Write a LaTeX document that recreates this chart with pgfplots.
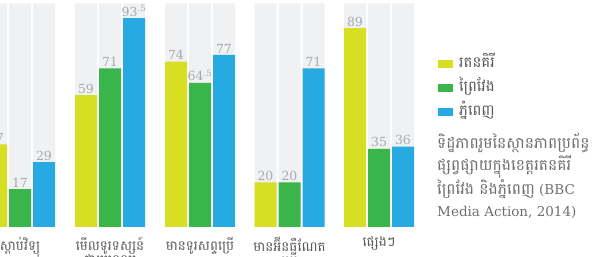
\documentclass[border=0pt]{standalone}
\usepackage{pgfplots}
\pgfplotsset{compat=1.18}
\usepackage{fontspec}
\setmainfont{DejaVu Serif}
\newfontfamily\khmer[Script=Khmer]{Battambang}
\definecolor{cy}{HTML}{D7DF23}
\definecolor{cg}{HTML}{39B54A}
\definecolor{cb}{HTML}{27AAE1}
\definecolor{bgc}{HTML}{F0F1F3}
\definecolor{num}{HTML}{A7A9AC}
\definecolor{txt}{HTML}{58595B}
\definecolor{cap}{HTML}{6D6E71}
\begin{document}
\begin{tikzpicture}
\useasboundingbox (0,0) rectangle (595pt,257pt);
\clip (0,0) rectangle (595pt,257pt);
\begin{axis}[
  at={(0pt,30pt)}, anchor=south west,
  scale only axis, width=595pt, height=223.5pt,
  xmin=0, xmax=595, ymin=0, ymax=100,
  axis line style={draw=none}, major tick length=0pt,
  ytick=\empty,
  xtick={20,110,200,289.5,379},
  xticklabels={ស្តាប់វិទ្យុ, មើលទូរទស្សន៍\\ផ្កាយរណប, មានទូរសព្ទប្រើ, មានអ៊ីនធឺណែត\\ប្រើ, ផ្សេងៗ},
  xticklabel style={font=\khmer\fontsize{13.5}{13}\selectfont, text=txt, align=center, inner sep=0pt, yshift=-10pt},
  clip=false,
  legend style={at={(0.736,0.7696)}, anchor=north west, draw=none, fill=none,
    font=\khmer\fontsize{15}{16}\selectfont, text=txt, row sep=6pt,
    inner sep=0pt, nodes={inner sep=2pt, text height=10pt, text depth=4pt},
    /tikz/every odd column/.append style={column sep=4pt}},
  legend cell align=left,
  legend image code/.code={\fill[#1] (0pt,-4pt) rectangle (15pt,4pt);},
  every node near coord/.style={font=\fontsize{12.5}{14}\selectfont, text=num, inner sep=1.5pt},
]
\addplot[ybar, bar width=22, bar shift=0pt, fill=bgc, draw=none, forget plot] coordinates {
(-4,100) (20,100) (44,100)
(86,100) (110,100) (134,100)
(176,100) (200,100) (224,100)
(265.5,100) (289.5,100) (313.5,100)
(355,100) (379,100) (403,100)};
\addplot[ybar, bar width=22, bar shift=0pt, fill=cy, draw=none,
  nodes near coords, point meta=explicit symbolic] coordinates {
(-4,37)[37] (86,59)[59] (176,74)[74] (265.5,20)[20] (355,89)[89]};
\addplot[ybar, bar width=22, bar shift=0pt, fill=cg, draw=none,
  nodes near coords, point meta=explicit symbolic] coordinates {
(20,17)[17] (110,71)[71] (200,64.5)[64\textsuperscript{.5}] (289.5,20)[20] (379,35)[35]};
\addplot[ybar, bar width=22, bar shift=0pt, fill=cb, draw=none,
  nodes near coords, point meta=explicit symbolic] coordinates {
(44,29)[29] (134,93.5)[93\textsuperscript{.5}] (224,77)[77] (313.5,71)[71] (403,36)[36]};
\legend{រតនគិរី, ព្រៃវែង, ភ្នំពេញ}
\end{axis}
\node[anchor=base west, align=left, inner sep=0pt, text=cap,
  font=\fontsize{13.5}{22.4}\selectfont] at (437pt,40pt)
  {{\khmer\fontsize{15.5}{22.4}\selectfont ទិដ្ឋភាពរួមនៃស្ថានភាពប្រព័ន្ធ}\\
   {\khmer\fontsize{15.5}{22.4}\selectfont ផ្សព្វផ្សាយក្នុងខេត្តរតនគិរី}\\
   {\khmer\fontsize{15.5}{22.4}\selectfont ព្រៃវែង និងភ្នំពេញ} (BBC\\
   Media Action, 2014)};
\end{tikzpicture}
\end{document}
